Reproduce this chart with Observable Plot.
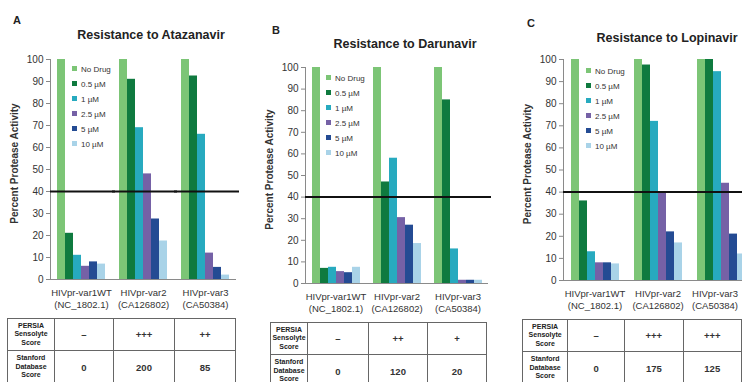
<!DOCTYPE html>
<html><head><meta charset="utf-8">
<script src="https://cdn.jsdelivr.net/npm/d3@7"></script>
<script src="https://cdn.jsdelivr.net/npm/@observablehq/plot@0.6"></script>
<style>
html,body{margin:0;padding:0;}
body{width:742px;height:382px;overflow:hidden;background:#fff;font-family:"Liberation Sans",Arial,sans-serif;position:relative;color:#222;}
.abs{position:absolute;}
.title{font-weight:bold;font-size:12.5px;color:#222;transform:translate(-50%,-50%);white-space:nowrap;}
.letter{font-weight:bold;font-size:11px;color:#222;}
.legend{font-size:8px;color:#333;}
.legend div{height:15px;line-height:15px;white-space:nowrap;}
.legend span.sw{display:inline-block;width:5px;height:5px;margin-right:4px;vertical-align:middle;position:relative;top:-1px;}
table.score{border-collapse:collapse;table-layout:fixed;}
table.score td{border:1px solid #666;text-align:center;vertical-align:middle;padding:0;color:#222;}
table.score td.hd{font-weight:bold;font-size:7px;line-height:8.5px;}
table.score td.v{font-size:9.5px;font-weight:bold;color:#333;}
</style></head><body>
<script>
// ---- data ----
const variants = ["HIVpr-var1WT", "HIVpr-var2", "HIVpr-var3"];
const accessions = ["(NC_1802.1)", "(CA126802)", "(CA50384)"];
const concentrations = ["No Drug", "0.5 µM", "1 µM", "2.5 µM", "5 µM", "10 µM"];
const concColors = ["#7cc576", "#0f7a3f", "#27aabf", "#7561a6", "#244b93", "#a9d3e8"];
const drugs = ["Atazanavir", "Darunavir", "Lopinavir"];
const panelLetters = ["A", "B", "C"];
const atazanavir = [[100, 21, 11, 6, 8, 7], [100, 91, 69, 48, 27.5, 17.5], [100, 92.5, 66, 12, 5.5, 2]];
const darunavir  = [[100, 7, 7.5, 5.5, 5, 7.5], [100, 47, 58, 30.5, 27, 18.5], [100, 85, 16, 1.5, 1.5, 1.5]];
const lopinavir  = [[100, 36, 13, 8, 8, 7.5], [100, 97.5, 72, 40, 22, 17], [100, 100, 94.5, 44, 21, 12]];
const persiaScores   = [["–", "+++", "++"], ["–", "++", "+"], ["–", "+++", "+++"]];
const stanfordScores = [["0", "200", "85"], ["0", "120", "20"], ["0", "175", "125"]];
const yTicks = [0, 10, 20, 30, 40, 50, 60, 70, 80, 90, 100];
const threshold = 40;

// ---- layout ----
const layouts = [
  {left: 0,   top: 45, w: 245, ml: 49, mr: 9,  mt: 14, plotBottom: 279, lastShift: 0,
   letter: [13, 14], title: [151, 35], legend: [72, 62], table: {left: 7, top: 318, cols: [47, 59, 61, 61]}},
  {left: 245, top: 50, w: 250, ml: 60, mr: 7,  mt: 17, plotBottom: 283, lastShift: 0,
   letter: [272, 24], title: [405, 44], legend: [326, 71], table: {left: 270, top: 322, cols: [37, 61, 59, 59]}},
  {left: 495, top: 45, w: 262, ml: 68, mr: 5,  mt: 14, plotBottom: 280, lastShift: -6,
   letter: [527, 17], title: [667, 38], legend: [586, 64], table: {left: 522, top: 319, cols: [46, 60, 61, 61]}}
];
const allValues = [atazanavir, darunavir, lopinavir];

function el(tag, cls, style, html) {
  const e = document.createElement(tag);
  if (cls) e.className = cls;
  if (style) Object.assign(e.style, style);
  if (html != null) e.innerHTML = html;
  document.body.appendChild(e);
  return e;
}

layouts.forEach((L, k) => {
  const values = allValues[k];
  const rows = [];
  variants.forEach((v, i) => concentrations.forEach((c, j) => rows.push({variant: v, conc: c, value: values[i][j]})));
  const labelRows = variants.map((v, i) => ({variant: v, label: v + "\n" + accessions[i]}));
  const mb = 36;
  const h = (L.plotBottom - L.top) + mb;
  const labelOpts = {fx: "variant", text: "label", frameAnchor: "bottom", lineAnchor: "top", dy: 7,
    lineHeight: 1.35, fontSize: 9.5, fill: "#333"};
  const chart = Plot.plot({
    width: L.w, height: h,
    marginLeft: L.ml, marginRight: L.mr, marginTop: L.mt, marginBottom: mb,
    style: {fontFamily: "'Liberation Sans', Arial, sans-serif", fontSize: "10px", color: "#444", background: "transparent", overflow: "visible"},
    fx: {domain: variants, padding: 0, axis: null},
    x: {domain: concentrations, paddingInner: 0, paddingOuter: 0.8, axis: null},
    y: {domain: [0, 100], axis: null},
    color: {domain: concentrations, range: concColors},
    marks: [
      Plot.barY(rows, {fx: "variant", x: "conc", y: "value", fill: "conc"}),
      Plot.axisY({ticks: yTicks, tickSize: 4, tickPadding: 3, label: null, fontSize: 10, fill: "#333", stroke: "#888"}),
      Plot.frame({anchor: "left", stroke: "#8a8a8a", facetAnchor: "left"}),
      Plot.ruleY([0], {stroke: "#8a8a8a"}),
      Plot.ruleY([threshold], {stroke: "#111", strokeWidth: 2, insetRight: -3}),
      Plot.text([variants[0]], {fx: d => d, text: () => "Percent Protease Activity", frameAnchor: "left",
        textAnchor: "middle", rotate: -90, dx: -35.5, dy: -6, fontWeight: "bold", fontSize: 10, fill: "#333"}),
      Plot.text(labelRows.slice(0, 2), labelOpts),
      Plot.text(labelRows.slice(2), {...labelOpts, dx: L.lastShift})
    ]
  });
  chart.style.position = "absolute";
  chart.style.left = L.left + "px";
  chart.style.top = L.top + "px";
  document.body.appendChild(chart);

  el("div", "abs letter", {left: L.letter[0] + "px", top: L.letter[1] + "px"}, panelLetters[k]);
  el("div", "abs title", {left: L.title[0] + "px", top: L.title[1] + "px"}, "Resistance to " + drugs[k]);

  const lg = el("div", "abs legend", {left: L.legend[0] + "px", top: L.legend[1] + "px"});
  concentrations.forEach((c, j) => {
    const r = document.createElement("div");
    const sw = document.createElement("span");
    sw.className = "sw"; sw.style.background = concColors[j];
    r.appendChild(sw);
    r.appendChild(document.createTextNode(c));
    lg.appendChild(r);
  });

  const T = L.table;
  const tbl = el("table", "abs score", {left: T.left + "px", top: T.top + "px"});
  const cg = document.createElement("colgroup");
  T.cols.forEach(w => { const c = document.createElement("col"); c.style.width = w + "px"; cg.appendChild(c); });
  tbl.appendChild(cg);
  const r1 = document.createElement("tr"); r1.style.height = "32px";
  r1.innerHTML = `<td class="hd">PERSIA<br>Sensolyte<br>Score</td>` + persiaScores[k].map(s => `<td class="v">${s}</td>`).join("");
  const r2 = document.createElement("tr"); r2.style.height = "33px";
  r2.innerHTML = `<td class="hd">Stanford<br>Database<br>Score</td>` + stanfordScores[k].map(s => `<td class="v">${s}</td>`).join("");
  tbl.appendChild(r1); tbl.appendChild(r2);
});
</script>
</body></html>
